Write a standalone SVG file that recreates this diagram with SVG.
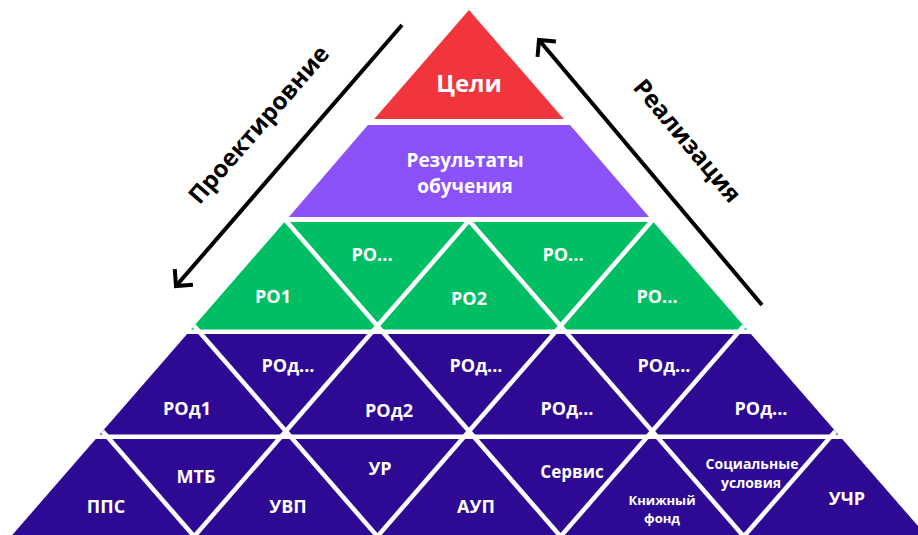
<svg xmlns="http://www.w3.org/2000/svg" width="918" height="535" viewBox="0 0 918 535">
<defs>
<style>
.red{fill:#F0353D}
.vio{fill:#8B52FA}
.grn{fill:#00BE63}
.ind{fill:#2E0A94}
text{font-family:"Open Sans","Liberation Sans",sans-serif;font-weight:700;fill:#fff;text-anchor:middle}
.t18{font-size:18px}
.div line{stroke:#fff;stroke-width:4.5;stroke-linecap:butt}
.arr{stroke:#000;stroke-width:4;fill:none}
.side{fill:#000;font-size:24px}
</style>
<marker id="head" markerUnits="userSpaceOnUse" viewBox="-20 -20 40 40" markerWidth="40" markerHeight="40" refX="0" refY="0" orient="auto" overflow="visible">
<path d="M-12,-12 L0,0 L-12,12" fill="none" stroke="#000" stroke-width="4" stroke-linejoin="miter"/>
</marker>
</defs>
<rect width="918" height="535" fill="#fff"/>

<g id="celi"><polygon class="red" points="469,10 563.8,119 374.2,119"/><text x="469" y="92" font-size="24">Цели</text></g>
<g id="rezultaty"><polygon class="vio" points="367.9,125 570.1,125 649.1,217 288.9,217"/><text x="465" y="167" font-size="19">Результаты</text><text x="465" y="193" font-size="19">обучения</text></g>

<g id="ro1"><polygon class="grn" points="284.56,222 287.04,222 380.57,329.5 191.03,329.5"/><text class="t18" x="273" y="303">РО1</text></g>
<g id="ro-a"><polygon class="grn" points="287.04,222 467.76,222 377.4,325.86"/><text class="t18" x="372" y="261">РО...</text></g>
<g id="ro2"><polygon class="grn" points="467.76,222 470.24,222 563.77,329.5 374.23,329.5"/><text class="t18" x="469" y="305">РО2</text></g>
<g id="ro-b"><polygon class="grn" points="470.24,222 650.96,222 560.6,325.86"/><text class="t18" x="563" y="261">РО...</text></g>
<g id="ro-c"><polygon class="grn" points="650.96,222 653.44,222 746.97,329.5 557.43,329.5"/><text class="t18" x="657" y="303">РО...</text></g>

<g id="rod1"><polygon class="ind" points="187.12,334 201.28,334 288.7,434.5 99.69,434.5"/><text class="t18" x="187" y="415">РОд1</text></g>
<g id="rod-a"><polygon class="ind" points="201.28,334 370.32,334 285.8,431.15"/><text class="t18" x="288" y="372">РОд...</text></g>
<g id="rod2"><polygon class="ind" points="370.32,334 384.48,334 471.9,434.5 282.9,434.5"/><text class="t18" x="389" y="417">РОд2</text></g>
<g id="rod-b"><polygon class="ind" points="384.48,334 553.52,334 469,431.15"/><text class="t18" x="476" y="372">РОд...</text></g>
<g id="rod-c"><polygon class="ind" points="553.52,334 567.68,334 655.1,434.5 466.1,434.5"/><text class="t18" x="567" y="415">РОд...</text></g>
<g id="rod-d"><polygon class="ind" points="567.68,334 736.72,334 652.2,431.15"/><text class="t18" x="664" y="372">РОд...</text></g>
<g id="rod-e"><polygon class="ind" points="736.72,334 750.88,334 838.32,434.5 649.3,434.5"/><text class="t18" x="761" y="415">РОд...</text></g>

<g id="pps"><polygon class="ind" points="95.77,439 109.43,439 197.3,540 7.9,540"/><text class="t18" x="106" y="513">ППС</text></g>
<g id="mtb"><polygon class="ind" points="109.43,439 278.97,439 194.2,536.5"/><text class="t18" x="196" y="483">МТБ</text></g>
<g id="uvp"><polygon class="ind" points="278.97,439 292.63,439 380.5,540 191.1,540"/><text class="t18" x="288" y="513">УВП</text></g>
<g id="ur"><polygon class="ind" points="292.63,439 462.17,439 377.4,536.5"/><text class="t18" x="380" y="475">УР</text></g>
<g id="aup"><polygon class="ind" points="462.17,439 475.83,439 563.7,540 374.3,540"/><text class="t18" x="476" y="513">АУП</text></g>
<g id="servis"><polygon class="ind" points="475.83,439 645.37,439 560.6,536.5"/><text x="572" y="478" font-size="17">Сервис</text></g>
<g id="knizhny-fond"><polygon class="ind" points="645.37,439 659.03,439 746.9,540 557.5,540"/><text x="662" y="505" font-size="13">Книжный</text><text x="662" y="523" font-size="13">фонд</text></g>
<g id="soc-usloviya"><polygon class="ind" points="659.03,439 828.57,439 743.8,536.5"/><text x="752" y="469" font-size="14">Социальные</text><text x="751" y="488" font-size="14">условия</text></g>
<g id="uchr"><polygon class="ind" points="828.57,439 842.23,439 930.1,540 740.7,540"/><text class="t18" x="847" y="505">УЧР</text></g>

<g id="dividers" class="div">
<line x1="469" y1="220.6" x2="746.9" y2="540"/>
<line x1="285.8" y1="220.6" x2="563.7" y2="540"/>
<line x1="194.2" y1="325.9" x2="380.5" y2="540"/>
<line x1="102.6" y1="431.2" x2="197.3" y2="540"/>
<line x1="469" y1="220.6" x2="191.1" y2="540"/>
<line x1="652.2" y1="220.6" x2="374.3" y2="540"/>
<line x1="743.8" y1="325.9" x2="557.5" y2="540"/>
<line x1="835.4" y1="431.2" x2="740.7" y2="540"/>
</g>

<g id="connectors">
<g id="proektirovanie">
<line class="arr" x1="402" y1="25" x2="176" y2="286" marker-end="url(#head)"/>
<text class="side" transform="translate(265,130) rotate(-49)">Проектировние</text>
</g>
<g id="realizatsiya">
<line class="arr" x1="762" y1="305" x2="539" y2="40" marker-end="url(#head)"/>
<text class="side" transform="translate(681,146) rotate(50)">Реализация</text>
</g>
</g>
</svg>
